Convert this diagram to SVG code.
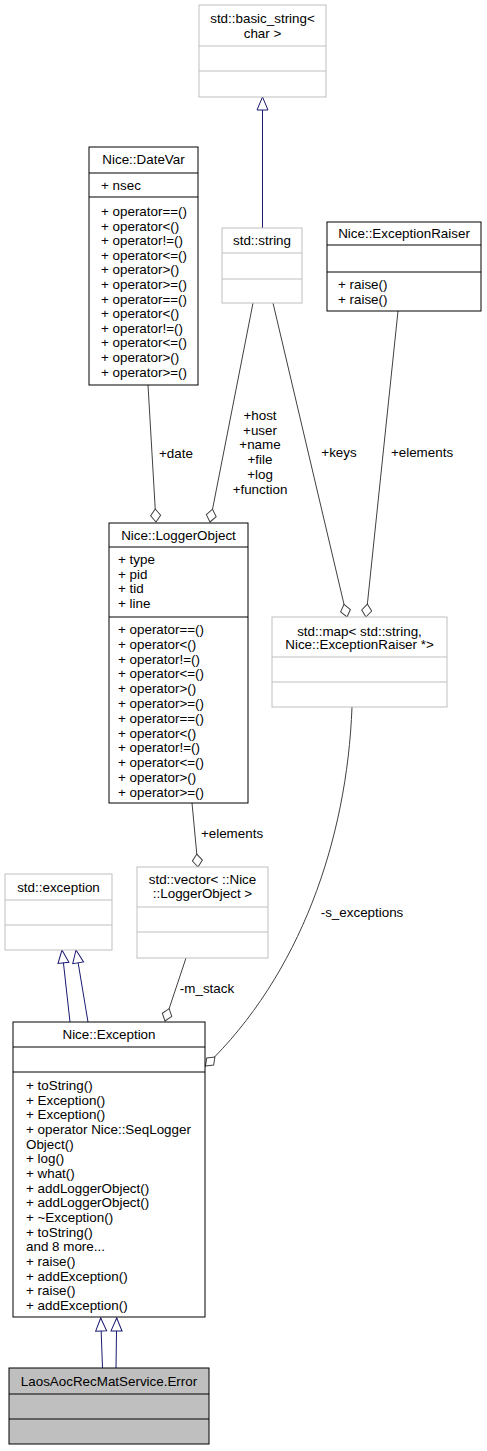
<svg xmlns="http://www.w3.org/2000/svg" width="487" height="1451" viewBox="0 0 487 1451">
<style>
.bx{fill:#fff;stroke:#000;stroke-width:1}
.gb{fill:#fff;stroke:#bfbfbf;stroke-width:1}
.sel{fill:#bfbfbf;stroke:#000;stroke-width:1}
text{font-family:"Liberation Sans",Arial,Helvetica,sans-serif;font-size:13.4px;fill:#000}
.c{text-anchor:middle}
.e{stroke:#404040;fill:none;stroke-width:1}
.i{stroke:#191970;fill:none;stroke-width:1}
</style>
<defs>
<marker id="dia" markerUnits="userSpaceOnUse" markerWidth="16" markerHeight="12" viewBox="-15 -6 16 12" refX="0" refY="0" orient="auto">
<path d="M0,0 L-6.5,-5 L-13,0 L-6.5,5 Z" fill="#fff" stroke="#404040" stroke-width="1"/>
</marker>
<marker id="tri" markerUnits="userSpaceOnUse" markerWidth="16" markerHeight="14" viewBox="-15 -7 16 14" refX="0" refY="0" orient="auto">
<path d="M0,0 L-13,-5.5 L-13,5.5 Z" fill="#fff" stroke="#191970" stroke-width="1"/>
</marker>
</defs>
<rect width="487" height="1451" fill="#fff"/>
<g id="connectors">
<path class="i" d="M262.5,228 L262.5,97" marker-end="url(#tri)"/>
<path class="i" d="M70,1022 L62,950" marker-end="url(#tri)"/>
<path class="i" d="M88,1022 L76,950" marker-end="url(#tri)"/>
<path class="i" d="M102.5,1368 L100.7,1318" marker-end="url(#tri)"/>
<path class="i" d="M116,1368 L116.7,1318" marker-end="url(#tri)"/>
<path class="e" d="M148,385 L156,522" marker-end="url(#dia)"/>
<path class="e" d="M253,303 L210,522" marker-end="url(#dia)"/>
<path class="e" d="M273,303 L347,617" marker-end="url(#dia)"/>
<path class="e" d="M398,311 L366,617" marker-end="url(#dia)"/>
<path class="e" d="M192,803 L198,867" marker-end="url(#dia)"/>
<path class="e" d="M186,958 L165,1021" marker-end="url(#dia)"/>
<path class="e" d="M352,707 C347,840 300,975 205.5,1066" marker-end="url(#dia)"/>
<text class="c" x="176" y="458">+date</text>
<text class="c" x="260" y="420">+host</text>
<text class="c" x="260" y="435">+user</text>
<text class="c" x="260" y="449">+name</text>
<text class="c" x="260" y="464">+file</text>
<text class="c" x="260" y="479">+log</text>
<text class="c" x="260" y="494">+function</text>
<text class="c" x="339" y="457">+keys</text>
<text class="c" x="422" y="457">+elements</text>
<text class="c" x="232" y="838">+elements</text>
<text class="c" x="207" y="993">-m_stack</text>
<text class="c" x="362" y="917">-s_exceptions</text>
</g>
<g id="basic_string">
<rect class="gb" x="199" y="5" width="127" height="92"/>
<line class="gb" x1="199" y1="46" x2="326" y2="46"/>
<line class="gb" x1="199" y1="71" x2="326" y2="71"/>
<text class="c" x="262.5" y="23">std::basic_string&lt;</text>
<text class="c" x="262.5" y="38">char &gt;</text>
</g>
<g id="DateVar">
<rect class="bx" x="89" y="147" width="109" height="238"/>
<line class="bx" x1="89" y1="173" x2="198" y2="173"/>
<line class="bx" x1="89" y1="197" x2="198" y2="197"/>
<text class="c" x="143.5" y="164">Nice::DateVar</text>
<text x="101" y="190">+ nsec</text>
<text x="101" y="216">
<tspan x="101">+ operator==()</tspan>
<tspan x="101" dy="14.6">+ operator&lt;()</tspan>
<tspan x="101" dy="14.6">+ operator!=()</tspan>
<tspan x="101" dy="14.6">+ operator&lt;=()</tspan>
<tspan x="101" dy="14.6">+ operator&gt;()</tspan>
<tspan x="101" dy="14.6">+ operator&gt;=()</tspan>
<tspan x="101" dy="14.6">+ operator==()</tspan>
<tspan x="101" dy="14.6">+ operator&lt;()</tspan>
<tspan x="101" dy="14.6">+ operator!=()</tspan>
<tspan x="101" dy="14.6">+ operator&lt;=()</tspan>
<tspan x="101" dy="14.6">+ operator&gt;()</tspan>
<tspan x="101" dy="14.6">+ operator&gt;=()</tspan>
</text>
</g>
<g id="std_string">
<rect class="gb" x="222" y="228" width="80" height="75"/>
<line class="gb" x1="222" y1="253" x2="302" y2="253"/>
<line class="gb" x1="222" y1="279" x2="302" y2="279"/>
<text class="c" x="262" y="245">std::string</text>
</g>
<g id="ExceptionRaiser">
<rect class="bx" x="327" y="222" width="154" height="89"/>
<line class="bx" x1="327" y1="245" x2="481" y2="245"/>
<line class="bx" x1="327" y1="272" x2="481" y2="272"/>
<text class="c" x="404" y="238">Nice::ExceptionRaiser</text>
<text x="338" y="289">+ raise()</text>
<text x="338" y="304">+ raise()</text>
</g>
<g id="LoggerObject">
<rect class="bx" x="109" y="523" width="139" height="280"/>
<line class="bx" x1="109" y1="547" x2="248" y2="547"/>
<line class="bx" x1="109" y1="617" x2="248" y2="617"/>
<text class="c" x="178.5" y="540">Nice::LoggerObject</text>
<text x="118" y="564">
<tspan x="118">+ type</tspan>
<tspan x="118" dy="14.7">+ pid</tspan>
<tspan x="118" dy="14.7">+ tid</tspan>
<tspan x="118" dy="14.7">+ line</tspan>
</text>
<text x="118" y="634">
<tspan x="118">+ operator==()</tspan>
<tspan x="118" dy="14.8">+ operator&lt;()</tspan>
<tspan x="118" dy="14.8">+ operator!=()</tspan>
<tspan x="118" dy="14.8">+ operator&lt;=()</tspan>
<tspan x="118" dy="14.8">+ operator&gt;()</tspan>
<tspan x="118" dy="14.8">+ operator&gt;=()</tspan>
<tspan x="118" dy="14.8">+ operator==()</tspan>
<tspan x="118" dy="14.8">+ operator&lt;()</tspan>
<tspan x="118" dy="14.8">+ operator!=()</tspan>
<tspan x="118" dy="14.8">+ operator&lt;=()</tspan>
<tspan x="118" dy="14.8">+ operator&gt;()</tspan>
<tspan x="118" dy="14.8">+ operator&gt;=()</tspan>
</text>
</g>
<g id="std_map">
<rect class="gb" x="272" y="617" width="175" height="90"/>
<line class="gb" x1="272" y1="657" x2="447" y2="657"/>
<line class="gb" x1="272" y1="682" x2="447" y2="682"/>
<text class="c" x="359.5" y="636">std::map&lt; std::string,</text>
<text class="c" x="359.5" y="649"> Nice::ExceptionRaiser *&gt;</text>
</g>
<g id="std_exception">
<rect class="gb" x="5" y="874" width="107" height="76"/>
<line class="gb" x1="5" y1="900" x2="112" y2="900"/>
<line class="gb" x1="5" y1="925" x2="112" y2="925"/>
<text class="c" x="58.5" y="892">std::exception</text>
</g>
<g id="std_vector">
<rect class="gb" x="137" y="867" width="131" height="91"/>
<line class="gb" x1="137" y1="907" x2="268" y2="907"/>
<line class="gb" x1="137" y1="932" x2="268" y2="932"/>
<text class="c" x="202.5" y="884">std::vector&lt; ::Nice</text>
<text class="c" x="202.5" y="898">::LoggerObject &gt;</text>
</g>
<g id="Nice_Exception">
<rect class="bx" x="13" y="1022" width="192" height="295"/>
<line class="bx" x1="13" y1="1047" x2="205" y2="1047"/>
<line class="bx" x1="13" y1="1072" x2="205" y2="1072"/>
<text class="c" x="109" y="1039">Nice::Exception</text>
<text x="26" y="1090">
<tspan x="26">+ toString()</tspan>
<tspan x="26" dy="14.67">+ Exception()</tspan>
<tspan x="26" dy="14.67">+ Exception()</tspan>
<tspan x="26" dy="14.67">+ operator Nice::SeqLogger</tspan>
<tspan x="26" dy="14.67">Object()</tspan>
<tspan x="26" dy="14.67">+ log()</tspan>
<tspan x="26" dy="14.67">+ what()</tspan>
<tspan x="26" dy="14.67">+ addLoggerObject()</tspan>
<tspan x="26" dy="14.67">+ addLoggerObject()</tspan>
<tspan x="26" dy="14.67">+ ~Exception()</tspan>
<tspan x="26" dy="14.67">+ toString()</tspan>
<tspan x="26" dy="14.67">and 8 more...</tspan>
<tspan x="26" dy="14.67">+ raise()</tspan>
<tspan x="26" dy="14.67">+ addException()</tspan>
<tspan x="26" dy="14.67">+ raise()</tspan>
<tspan x="26" dy="14.67">+ addException()</tspan>
</text>
</g>
<g id="Error">
<rect class="sel" x="9" y="1368" width="200" height="76"/>
<line class="sel" x1="9" y1="1394" x2="209" y2="1394"/>
<line class="sel" x1="9" y1="1419" x2="209" y2="1419"/>
<text class="c" x="109" y="1386">LaosAocRecMatService.Error</text>
</g>
</svg>
